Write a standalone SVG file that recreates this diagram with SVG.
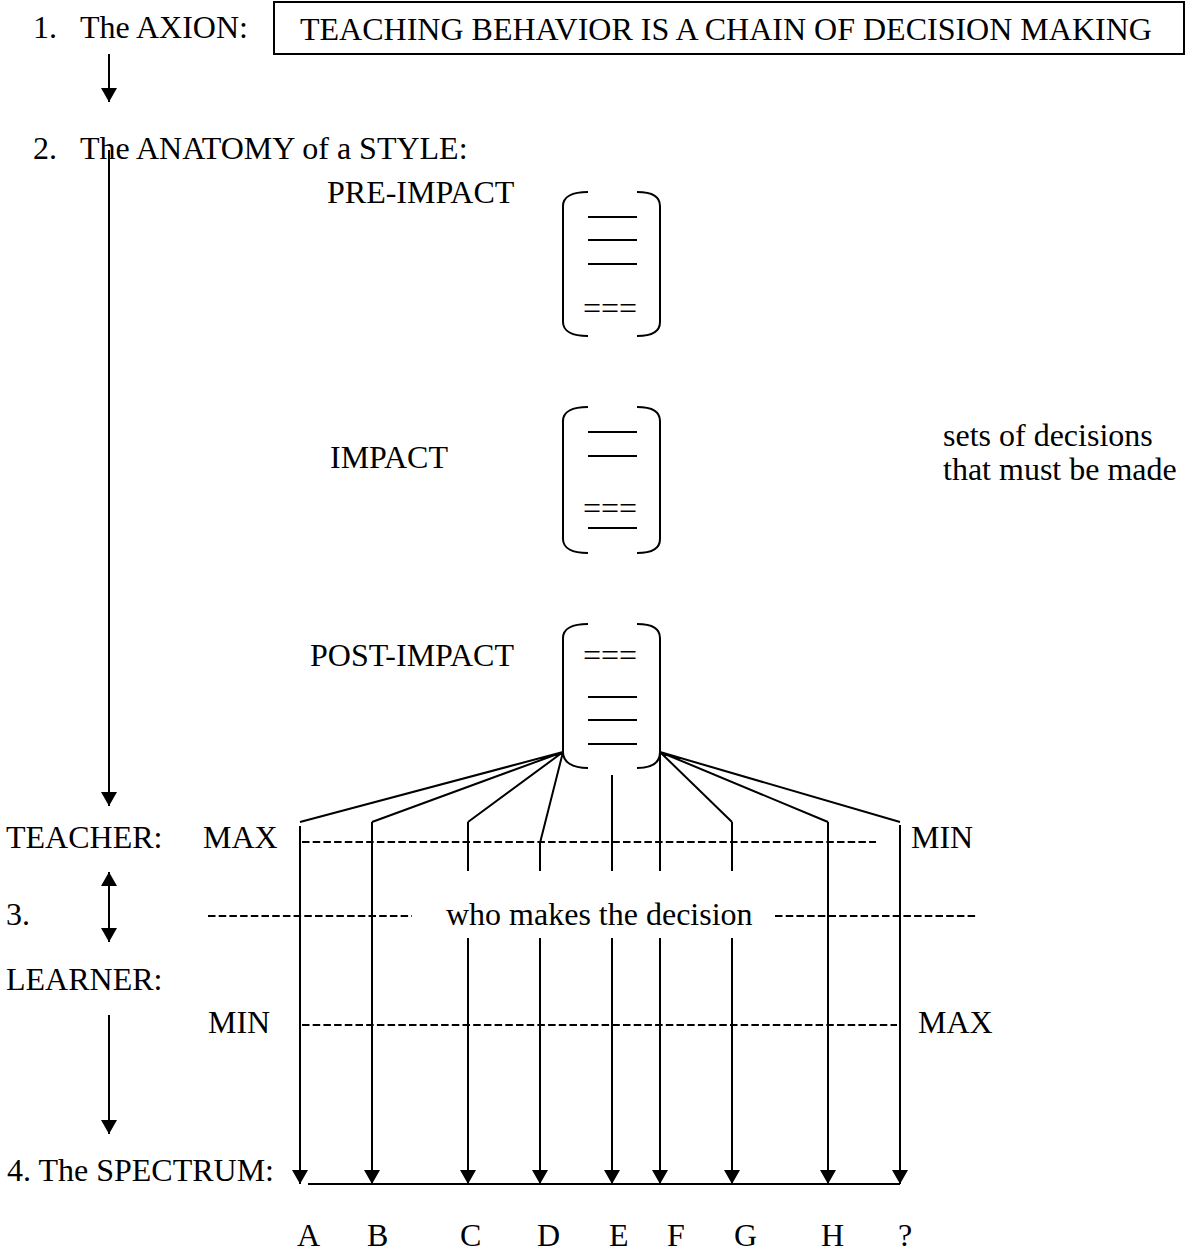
<svg xmlns="http://www.w3.org/2000/svg" width="1187" height="1257" viewBox="0 0 1187 1257">
<defs>
<style>
text{font-family:"Liberation Serif","Times New Roman",serif;font-size:32px;fill:#000}
.ln{stroke:#000;stroke-width:2;fill:none}
.dash{stroke:#000;stroke-width:2;fill:none;stroke-dasharray:7.5 3.2}
.br{stroke:#000;stroke-width:2;fill:none}
</style>
<marker id="ah" viewBox="0 0 14 16" refX="14" refY="8" markerWidth="14" markerHeight="16" markerUnits="userSpaceOnUse" orient="auto">
<path d="M0,0 L14,8 L0,16 Z" fill="#000"/>
</marker>
<marker id="ahs" viewBox="0 0 14 16" refX="0" refY="8" markerWidth="14" markerHeight="16" markerUnits="userSpaceOnUse" orient="auto">
<path d="M14,0 L0,8 L14,16 Z" fill="#000"/>
</marker>
</defs>
<rect width="1187" height="1257" fill="#fff"/>

<g id="axiom-label"><text x="33" y="38">1.</text><text x="80" y="38">The AXION:</text></g>
<g id="axiom-box">
<rect x="274" y="2" width="910" height="52" class="ln"/>
<text x="300" y="40">TEACHING BEHAVIOR IS A CHAIN OF DECISION MAKING</text>
</g>
<g id="anatomy-label"><text x="33" y="159">2.</text><text x="80" y="159">The ANATOMY of a STYLE:</text></g>

<g id="pre-impact">
<text x="327" y="203">PRE-IMPACT</text>
<path class="br" d="M588,192 C572,192 563,197 563,206 L563,322 C563,331 572,336 588,336 M637,192 C653,192 660,197 660,206 L660,322 C660,331 653,336 637,336"/>
<path class="ln" d="M588,217 H637 M588,240 H637 M588,264 H637"/>
<text x="583" y="319">===</text>
</g>

<g id="impact">
<text x="330" y="468">IMPACT</text>
<path class="br" d="M588,407 C572,407 563,412 563,421 L563,539 C563,548 572,553 588,553 M637,407 C653,407 660,412 660,421 L660,539 C660,548 653,553 637,553"/>
<path class="ln" d="M588,432 H637 M588,456 H637 M588,528 H637"/>
<text x="583" y="519">===</text>
</g>

<g id="note">
<text x="943" y="446">sets of decisions</text>
<text x="943" y="480">that must be made</text>
</g>

<g id="post-impact">
<text x="310" y="666">POST-IMPACT</text>
<path class="br" d="M588,624 C572,624 563,629 563,638 L563,752 C563,762 572,768 588,768 M637,624 C653,624 660,629 660,638 L660,752 C660,762 653,768 637,768"/>
<path class="ln" d="M588,697 H637 M588,720 H637 M588,744 H637"/>
<text x="583" y="666">===</text>
</g>

<g id="teacher-row">
<text x="6" y="848">TEACHER:</text>
<text x="203" y="848">MAX</text>
<text x="911" y="848">MIN</text>
</g>
<g id="who-row">
<text x="6" y="925">3.</text>
<text x="446" y="925">who makes the decision</text>
</g>
<g id="learner-row">
<text x="6" y="990">LEARNER:</text>
<text x="208" y="1033">MIN</text>
<text x="918" y="1033">MAX</text>
</g>

<g id="spectrum">
<text x="7" y="1181">4. The SPECTRUM:</text>
<line class="ln" x1="308" y1="1184" x2="900" y2="1184"/>
<text x="297" y="1246">A</text>
<text x="367" y="1246">B</text>
<text x="460" y="1246">C</text>
<text x="537" y="1246">D</text>
<text x="609" y="1246">E</text>
<text x="667" y="1246">F</text>
<text x="734" y="1246">G</text>
<text x="821" y="1246">H</text>
<text x="898" y="1246">?</text>
</g>

<g id="scales">
<line class="dash" x1="302" y1="842" x2="876" y2="842"/>
<line class="dash" x1="208" y1="916" x2="412" y2="916"/>
<line class="dash" x1="775" y1="916" x2="977" y2="916"/>
<line class="dash" x1="302" y1="1025" x2="897" y2="1025"/>
</g>

<g id="connectors">
<line class="ln" x1="109" y1="54" x2="109" y2="102" marker-end="url(#ah)"/>
<line class="ln" x1="109" y1="150" x2="109" y2="806" marker-end="url(#ah)"/>
<line class="ln" x1="109" y1="872" x2="109" y2="942" marker-start="url(#ahs)" marker-end="url(#ah)"/>
<line class="ln" x1="109" y1="1015" x2="109" y2="1134" marker-end="url(#ah)"/>
<path class="ln" d="M563,752 L300,822 M563,752 L372,822 M563,752 L468,822 M563,752 L540,843 M660,752 L732,822 M660,752 L828,822 M660,752 L900,822"/>
<path class="ln" d="M468,822 V871 M540,843 V871 M612,775 V871 M660,752 V871 M732,822 V871"/>
<line class="ln" x1="300" y1="826" x2="300" y2="1184" marker-end="url(#ah)"/>
<line class="ln" x1="372" y1="822" x2="372" y2="1184" marker-end="url(#ah)"/>
<line class="ln" x1="468" y1="938" x2="468" y2="1184" marker-end="url(#ah)"/>
<line class="ln" x1="540" y1="938" x2="540" y2="1184" marker-end="url(#ah)"/>
<line class="ln" x1="612" y1="938" x2="612" y2="1184" marker-end="url(#ah)"/>
<line class="ln" x1="660" y1="938" x2="660" y2="1184" marker-end="url(#ah)"/>
<line class="ln" x1="732" y1="938" x2="732" y2="1184" marker-end="url(#ah)"/>
<line class="ln" x1="828" y1="822" x2="828" y2="1184" marker-end="url(#ah)"/>
<line class="ln" x1="900" y1="825" x2="900" y2="1184" marker-end="url(#ah)"/>
</g>
</svg>
